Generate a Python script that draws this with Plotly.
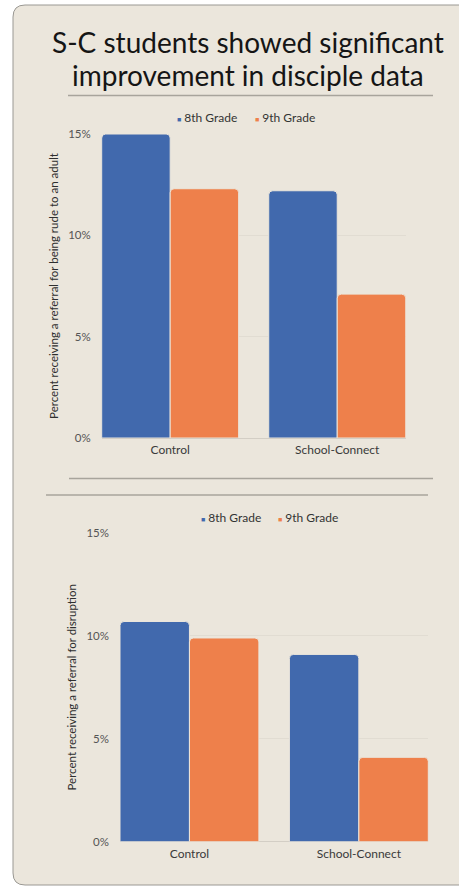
import plotly.graph_objects as go

categories = ["Control", "School-Connect"]
series_names = ["8th Grade", "9th Grade"]
rude_8th = [15.0, 12.2]
rude_9th = [12.3, 7.1]
disr_8th = [10.7, 9.1]
disr_9th = [9.9, 4.1]
tick_vals = [0, 5, 10, 15]
tick_text = ["0%", "5%", "10%", "15%"]
title_lines = ["S-C students showed significant", "improvement in disciple data"]
ytitle_top = "Percent receiving a referral for being rude to an adult"
ytitle_bottom = "Percent receiving a referral for disruption"

BLUE = "#4169AD"
ORANGE = "#EE804B"
BG = "#EBE6DC"
FONT = "Lato"
W, H = 459, 886


def px_x(v):
    return v / W


def px_y(v):
    return 1 - v / H


fig = go.Figure()

for xa, ya, s8, s9 in (("x", "y", rude_8th, rude_9th), ("x2", "y2", disr_8th, disr_9th)):
    fig.add_trace(go.Bar(x=categories, y=s8, name=series_names[0], marker_color=BLUE,
                         marker_line=dict(color=BG, width=1), showlegend=False,
                         xaxis=xa, yaxis=ya))
    fig.add_trace(go.Bar(x=categories, y=s9, name=series_names[1], marker_color=ORANGE,
                         marker_line=dict(color=BG, width=1), showlegend=False,
                         xaxis=xa, yaxis=ya))

bargap = 0.18
half = (1 - bargap) / 2
xr = [-half, 1 + half]

tick_font = dict(family=FONT, size=11.5, color="#555555")
cat_font = dict(family=FONT, size=12, color="#3a3a3a")
ytitle_font = dict(family=FONT, size=11.5, color="#2e2e2e")


def yaxis_cfg(d0, d1, anchor, title):
    return dict(domain=[px_y(d0), px_y(d1)], anchor=anchor, range=[0, 15],
                tickvals=tick_vals, ticktext=tick_text, tickfont=tick_font,
                showgrid=True, gridcolor="#E1DCD2", gridwidth=1,
                zeroline=True, zerolinecolor="#D3CEC5", zerolinewidth=1,
                ticks="", ticklabelstandoff=10, fixedrange=True,
                title=dict(text=title, font=ytitle_font, standoff=7))


def xaxis_cfg(d0, d1, anchor):
    return dict(domain=[px_x(d0), px_x(d1)], anchor=anchor, range=xr,
                showgrid=False, showline=False, ticks="", tickfont=cat_font,
                ticklabelstandoff=3, fixedrange=True)


fig.update_layout(
    width=W, height=H,
    margin=dict(l=0, r=0, t=0, b=0, autoexpand=False),
    paper_bgcolor="white",
    plot_bgcolor="rgba(0,0,0,0)",
    barmode="group",
    bargap=bargap,
    bargroupgap=0,
    barcornerradius=4,
    showlegend=False,
    font=dict(family=FONT, color="#333333"),
    xaxis=xaxis_cfg(101.7, 405.7, "y"),
    yaxis=yaxis_cfg(438, 134, "x", ytitle_top),
    xaxis2=xaxis_cfg(120, 428.3, "y2"),
    yaxis2=yaxis_cfg(841.7, 533, "x2", ytitle_bottom),
)

# title (two centred lines)
for txt, yb in zip(title_lines, (51.7, 85.0)):
    fig.add_annotation(text=txt, xref="paper", yref="paper", x=px_x(248),
                       y=px_y(yb - 0.35 * 28), xanchor="center", yanchor="middle",
                       showarrow=False, font=dict(family=FONT, size=28, color="#151515"))

# legends (small coloured squares + labels)
for lx, ly in (((175, 253), 117.4), ((198.5, 275.5), 517.3)):
    for nm, col, x0 in zip(series_names, [BLUE, ORANGE], lx):
        fig.add_annotation(
            text=f"<span style='color:{col};font-size:7px'>■</span> {nm}",
            xref="paper", yref="paper", x=px_x(x0), y=px_y(ly),
            xanchor="left", yanchor="middle", showarrow=False,
            font=dict(family=FONT, size=12, color="#333333"))

# card background with rounded left corners (extends past right edge)
L, T, R, B = px_x(13), px_y(5), 1.3, px_y(885)
rx, ry = 12 / W, 12 / H
card_path = (f"M{L+rx},{T} L{R},{T} L{R},{B} L{L+rx},{B} "
             f"Q{L},{B} {L},{B+ry} L{L},{T-ry} Q{L},{T} {L+rx},{T} Z")
fig.add_shape(type="path", path=card_path, xref="paper", yref="paper",
              fillcolor=BG, line=dict(color="#9A9893", width=1), layer="below")

# title underline and separators
for x0, x1, y in ((68, 433, 95.5), (69, 433, 478.5), (46, 428, 495)):
    fig.add_shape(type="line", xref="paper", yref="paper",
                  x0=px_x(x0), x1=px_x(x1), y0=px_y(y), y1=px_y(y),
                  line=dict(color="#A8A49C", width=1.5), layer="below")

fig.write_html("out.html", config={"displayModeBar": False},
               post_script="document.body.style.margin='0';")
